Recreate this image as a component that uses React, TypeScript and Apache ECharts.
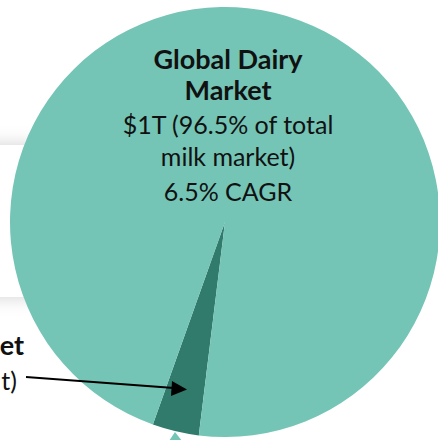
import React, { useEffect, useRef } from "react";
import * as echarts from "echarts";

const sliceNames = ["Plant-based Milk Market", "Global Dairy Market"];
const sliceValues = [3.5, 96.5];
const sliceColors = ["#317b6d", "#74c5b6"];
const mainTitle = ["Global Dairy", "Market"];
const mainLines = ["$1T (96.5% of total", "milk market)", "6.5% CAGR"];
const sideTitle = "et";
const sideLine = "t)";

const FONT = "Lato";

export default function App() {
  const ref = useRef<HTMLDivElement>(null);
  useEffect(() => {
    if (!ref.current) return;
    const chart = echarts.init(ref.current, null, { renderer: "svg" });
    const titleY = [58, 89];
    const lineY = [124, 156, 191];
    const graphic: any[] = [
      {
        type: "rect",
        z: 0,
        shape: { x: -30, y: 145, width: 240, height: 152 },
        style: { fill: "#ffffff", shadowBlur: 18, shadowColor: "rgba(0,0,0,0.18)", shadowOffsetY: 0 },
      },
      ...mainTitle.map((t, i) => ({
        type: "text",
        z: 10,
        x: 228,
        y: titleY[i],
        style: { text: t, fill: "#111", font: `bold 27px ${FONT}`, textAlign: "center", textVerticalAlign: "middle" },
      })),
      ...mainLines.map((t, i) => ({
        type: "text",
        z: 10,
        x: 228,
        y: lineY[i],
        style: { text: t, fill: "#111", font: `25px ${FONT}`, textAlign: "center", textVerticalAlign: "middle" },
      })),
      {
        type: "text",
        z: 10,
        x: 24,
        y: 344,
        style: { text: sideTitle, fill: "#111", font: `bold 27px ${FONT}`, textAlign: "right", textVerticalAlign: "middle" },
      },
      {
        type: "text",
        z: 10,
        x: 17,
        y: 380,
        style: { text: sideLine, fill: "#111", font: `25px ${FONT}`, textAlign: "right", textVerticalAlign: "middle" },
      },
      {
        type: "line",
        z: 10,
        shape: { x1: 26, y1: 377, x2: 174, y2: 388 },
        style: { stroke: "#000", lineWidth: 2.2 },
      },
      {
        type: "polygon",
        z: 10,
        shape: { points: [[187, 389.5], [172, 381], [171, 396]] },
        style: { fill: "#000" },
      },
      {
        type: "polygon",
        z: 10,
        shape: { points: [[175, 432], [169, 441], [182, 441]] },
        style: { fill: "#74c5b6" },
      },
    ];
    chart.setOption({
      animation: false,
      backgroundColor: "#ffffff",
      graphic,
      series: [
        {
          type: "pie",
          z: 2,
          center: [225, 222],
          radius: [0, 215],
          startAngle: 263,
          clockwise: true,
          label: { show: false },
          labelLine: { show: false },
          silent: true,
          itemStyle: { borderWidth: 0 },
          data: sliceNames.map((n, i) => ({ name: n, value: sliceValues[i], itemStyle: { color: sliceColors[i] } })),
        },
      ],
    });
    return () => chart.dispose();
  }, []);
  return <div ref={ref} style={{ position: "absolute", left: 0, top: 0, width: 438, height: 440 }} />;
}
